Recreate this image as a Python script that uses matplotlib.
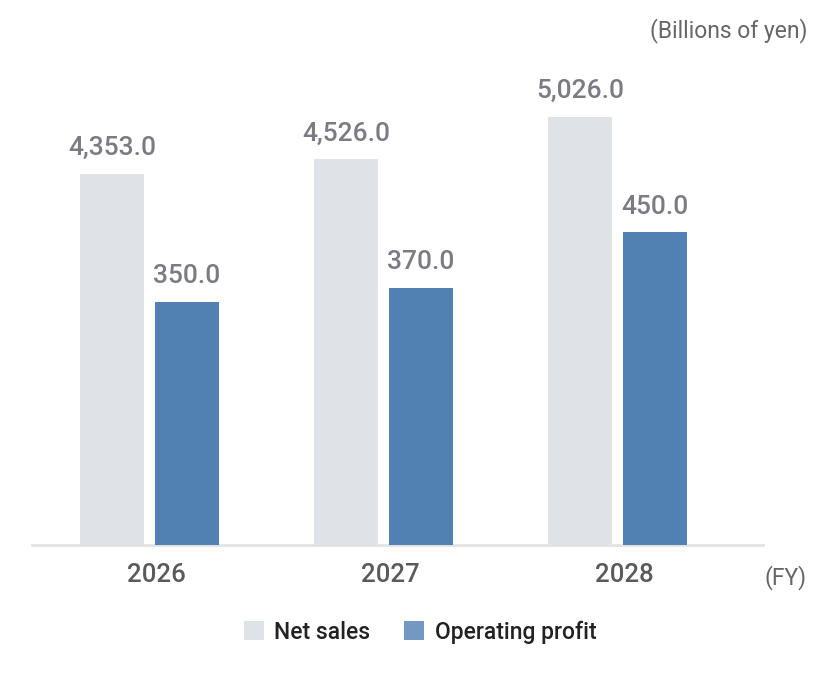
import numpy as np
import matplotlib.pyplot as plt
from matplotlib.patches import Patch

plt.rcParams['font.family'] = ['Roboto', 'DejaVu Sans']

years = ['2026', '2027', '2028']
net_sales = [4353.0, 4526.0, 5026.0]
op_profit = [350.0, 370.0, 450.0]

c_sales = '#dfe2e7'
c_profit = '#5180b3'

fig = plt.figure(figsize=(8.4, 6.78), dpi=100)
# axes: x 32..763 px, y baseline 545, top 60
ax = fig.add_axes([32/840, (678-545)/678, (763-32)/840, 485/678])
ax2 = ax.twinx()

x = np.arange(len(years))
w = 0.2735
off = 0.16

b1 = ax.bar(x - off, net_sales, w, color=c_sales, zorder=2)
b2 = ax2.bar(x + off, op_profit, w, color=c_profit, zorder=2)

ax.set_xlim(-0.502, 2.622)
ax.set_ylim(0, 485/0.0852)
ax2.set_ylim(0, 485/0.6945)

for a in (ax, ax2):
    for s in a.spines.values():
        s.set_visible(False)
    a.set_yticks([])
ax.spines['bottom'].set_visible(True)
ax.spines['bottom'].set_color('#e2e2e2')
ax.spines['bottom'].set_linewidth(2)

ax.set_xticks(x + 0.03)
ax.set_xticklabels(years, fontsize=18.5, color='#5a5a5a', fontweight='medium')
ax.tick_params(axis='x', length=0, pad=13)

for rect, v in zip(b1, net_sales):
    ax.annotate(f'{v:,.1f}', (rect.get_x() + rect.get_width()/2, rect.get_height()),
                xytext=(0, 10), textcoords='offset points', ha='center', va='bottom',
                fontsize=19, color='#7b7b84', fontweight='medium')
for rect, v in zip(b2, op_profit):
    ax2.annotate(f'{v:,.1f}', (rect.get_x() + rect.get_width()/2, rect.get_height()),
                 xytext=(0, 10), textcoords='offset points', ha='center', va='bottom',
                 fontsize=19, color='#7b7b84', fontweight='medium')

fig.text(807/840, 1 - 31/678, '(Billions of yen)', ha='right', va='center',
         fontsize=16.5, color='#666666')
fig.text(807/840, 1 - 578/678, '(FY)', ha='right', va='center',
         fontsize=16.5, color='#666666')

handles = [Patch(facecolor=c_sales), Patch(facecolor='#7399c3')]
fig.legend(handles, ['Net sales', 'Operating profit'], loc='center',
           bbox_to_anchor=(420/840, 1 - 632/678), ncol=2, frameon=False,
           handlelength=0.87, handleheight=0.87, columnspacing=1.5,
           handletextpad=0.45, labelcolor='#222222', prop={'weight': 'medium', 'size': 16.5})

fig.savefig('out.png', dpi=100)
